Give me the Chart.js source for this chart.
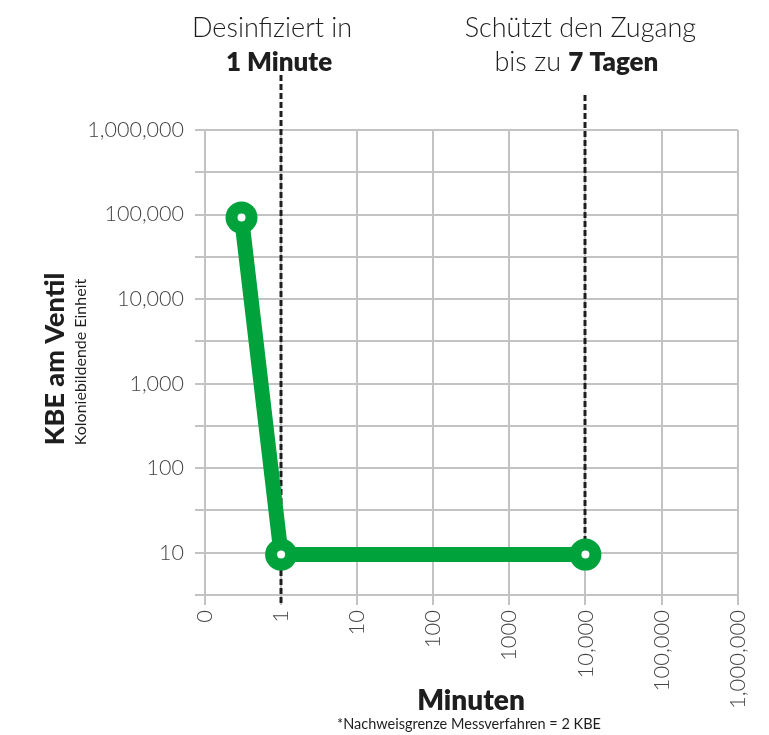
<!DOCTYPE html>
<html>
<head>
<meta charset="utf-8">
<script src="https://cdn.jsdelivr.net/npm/chart.js@4/dist/chart.umd.min.js"></script>
<style>
  html, body { margin: 0; padding: 0; background: #fff; }
  #wrap { width: 769px; height: 735px; }
</style>
</head>
<body>
<div id="wrap"><canvas id="chart"></canvas></div>
<script>
// x axis: evenly spaced log-like minute marks
const xTickLabels = ['0', '1', '10', '100', '1000', '10,000', '100,000', '1,000,000'];
// y grid lines every half decade
const yGridValues = [3.162, 10, 31.62, 100, 316.2, 1000, 3162, 10000, 31623, 100000, 316228, 1000000];
// measured points (x = position on the minute axis)
const minutePositions = [0.48, 1, 5];
const kbeValues = [92000, 9.5, 9.5];
// dashed markers: 1 minute, 7 days (~10,000 min)
const markerPositions = [1, 5];

const GREEN = '#00a23b';
const FONT = 'Lato, "Open Sans", sans-serif';

const overlay = {
  id: 'overlay',
  beforeDatasetsDraw(chart) {
    const { ctx, scales: { x, y } } = chart;
    ctx.save();
    ctx.strokeStyle = '#1e1e1e';
    ctx.lineWidth = 3;
    ctx.setLineDash([6, 3]);
    const tops = [75, 95];
    const bottoms = [605, y.getPixelForValue(kbeValues[2])];
    markerPositions.forEach((m, i) => {
      const px = Math.round(x.getPixelForValue(m));
      ctx.beginPath();
      ctx.moveTo(px, tops[i]);
      ctx.lineTo(px, bottoms[i]);
      ctx.stroke();
    });
    ctx.restore();
  },
  afterDraw(chart) {
    const { ctx, scales: { x } } = chart;
    ctx.save();
    ctx.fillStyle = '#1e1e1e';
    ctx.textAlign = 'center';
    ctx.textBaseline = 'alphabetic';

    // top annotations
    const x1 = x.getPixelForValue(markerPositions[0]);
    const x2 = x.getPixelForValue(markerPositions[1]);
    ctx.font = '300 27px ' + FONT;
    ctx.fillText('Desinfiziert in', x1 - 9, 37);
    ctx.font = '800 26px ' + FONT;
    ctx.fillText('1 Minute', x1 - 2, 71);

    ctx.font = '300 27px ' + FONT;
    ctx.fillText('Schützt den Zugang', x2 - 5, 37);
    // mixed weight line
    const a = 'bis zu ', b = '7 Tagen';
    ctx.font = '300 27px ' + FONT;
    const wa = ctx.measureText(a).width;
    ctx.font = '800 26px ' + FONT;
    const wb = ctx.measureText(b).width;
    const sx = x2 - 9 - (wa + wb) / 2;
    ctx.textAlign = 'left';
    ctx.font = '300 27px ' + FONT;
    ctx.fillText(a, sx, 71);
    ctx.font = '800 26px ' + FONT;
    ctx.fillText(b, sx + wa, 71);

    // x title + footnote
    ctx.textAlign = 'center';
    ctx.font = '800 28px ' + FONT;
    ctx.fillText('Minuten', 471, 710);
    ctx.font = '400 14.5px ' + FONT;
    ctx.fillText('*Nachweisgrenze Messverfahren = 2 KBE', 469, 729);

    // y title, rotated
    ctx.save();
    ctx.translate(64, 359);
    ctx.rotate(-Math.PI / 2);
    ctx.font = '900 27px ' + FONT;
    ctx.fillText('KBE am Ventil', 0, 0);
    ctx.restore();
    ctx.save();
    ctx.translate(86, 362);
    ctx.rotate(-Math.PI / 2);
    ctx.font = '400 16px ' + FONT;
    ctx.fillText('Koloniebildende Einheit', 0, 0);
    ctx.restore();
    ctx.restore();
  }
};

new Chart(document.getElementById('chart'), {
  type: 'line',
  data: {
    datasets: [{
      data: minutePositions.map((m, i) => ({ x: m, y: kbeValues[i] })),
      borderColor: GREEN,
      borderWidth: 15,
      pointRadius: 10,
      pointBorderWidth: 12,
      pointBorderColor: GREEN,
      pointBackgroundColor: '#fff',
      pointHoverRadius: 10,
      tension: 0
    }]
  },
  options: {
    responsive: true,
    maintainAspectRatio: false,
    animation: false,
    layout: { padding: { top: 130, right: 29, left: 0, bottom: 0 } },
    plugins: { legend: { display: false }, tooltip: { enabled: false } },
    scales: {
      x: {
        type: 'linear',
        min: 0,
        max: xTickLabels.length - 1,
        afterBuildTicks: (scale) => {
          scale.ticks = xTickLabels.map((_, i) => ({ value: i }));
        },
        afterFit: (scale) => { scale.height = 140; },
        grid: { color: '#c3c3c3', lineWidth: 2, tickLength: 10, drawTicks: true },
        border: { display: false },
        ticks: {
          autoSkip: false,
          minRotation: 90,
          maxRotation: 90,
          padding: 5,
          color: '#444',
          font: { family: FONT, size: 22, weight: '300' },
          callback: (v) => xTickLabels[v]
        }
      },
      y: {
        type: 'logarithmic',
        min: yGridValues[0],
        max: yGridValues[yGridValues.length - 1],
        afterBuildTicks: (scale) => {
          scale.ticks = yGridValues.map(v => ({ value: v }));
        },
        afterFit: (scale) => { scale.width = 205; },
        grid: { color: '#c3c3c3', lineWidth: 2, tickLength: 10 },
        border: { display: false },
        ticks: {
          autoSkip: false,
          padding: 11,
          color: '#444',
          font: { family: FONT, size: 21.5, weight: '300' },
          callback: (v) => {
            const e = Math.log10(v);
            if (Math.abs(e - Math.round(e)) > 0.01 || v < 5) return '';
            return Math.round(v).toLocaleString('en-US');
          }
        }
      }
    }
  },
  plugins: [overlay]
});
</script>
</body>
</html>
